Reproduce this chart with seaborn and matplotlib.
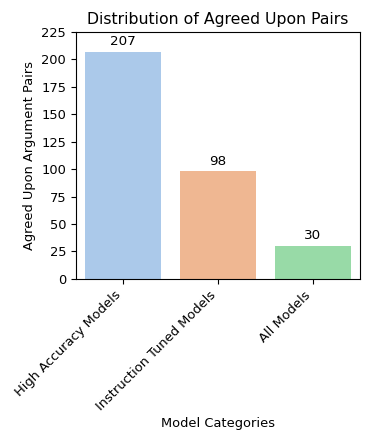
import matplotlib
matplotlib.use("Agg")
import matplotlib.pyplot as plt
import seaborn as sns
import pandas as pd

categories = ["High Accuracy Models", "Instruction Tuned Models", "All Models"]
pair_counts = [207, 98, 30]

df = pd.DataFrame({"Model Categories": categories, "Agreed Upon Argument Pairs": pair_counts})

fs = 9.4  # everything looks ~0.94 of the default sizes

fig, ax = plt.subplots(figsize=(3.74, 4.33), dpi=100)
sns.barplot(data=df, x="Model Categories", y="Agreed Upon Argument Pairs",
            hue="Model Categories", palette="pastel", legend=False, ax=ax)

for c in ax.containers:
    ax.bar_label(c, fontsize=fs + 0.3, padding=2.5)

ax.set_ylim(0, 225)
ax.set_yticks(range(0, 226, 25))
ax.set_title("Distribution of Agreed Upon Pairs", fontsize=11.3)
ax.set_xlabel("Model Categories", fontsize=fs, labelpad=3)
ax.set_ylabel("Agreed Upon Argument Pairs", fontsize=fs)
plt.setp(ax.get_xticklabels(), rotation=45, ha="right", fontsize=fs)
ax.tick_params(axis="y", labelsize=fs)

fig.subplots_adjust(left=0.203, right=0.963, top=0.926, bottom=0.356)
fig.savefig("out.png", dpi=100)
